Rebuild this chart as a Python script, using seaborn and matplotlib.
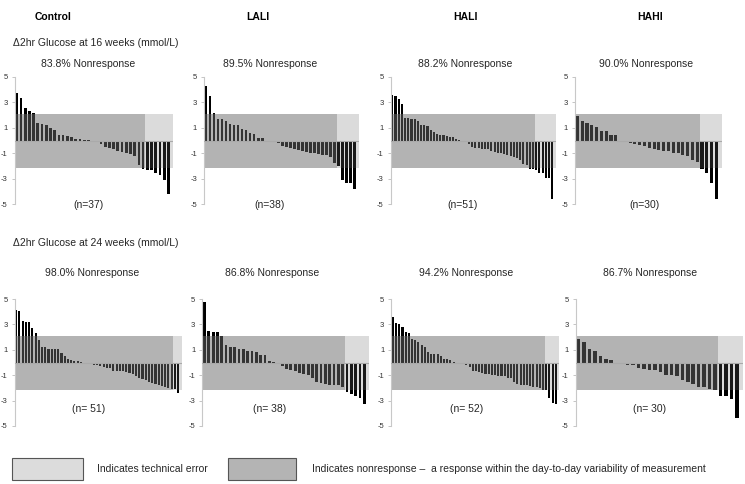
import matplotlib
matplotlib.use("Agg")
import matplotlib.pyplot as plt
import seaborn as sns
import pandas as pd
from matplotlib.patches import Rectangle

sns.set_style("white")
plt.rcParams['font.family'] = ['Liberation Sans', 'DejaVu Sans']

groups = ["Control", "LALI", "HALI", "HAHI"]
row_titles = ["\u03942hr Glucose at 16 weeks (mmol/L)", "\u03942hr Glucose at 24 weeks (mmol/L)"]
pct_16 = ["83.8% Nonresponse", "89.5% Nonresponse", "88.2% Nonresponse", "90.0% Nonresponse"]
pct_24 = ["98.0% Nonresponse", "86.8% Nonresponse", "94.2% Nonresponse", "86.7% Nonresponse"]
n_16 = ["(n=37)", "(n=38)", "(n=51)", "(n=30)"]
n_24 = ["(n= 51)", "(n= 38)", "(n= 52)", "(n= 30)"]
yticks = [5, 3, 1, -1, -3, -5]

control_16 = [3.69, 3.34, 2.52, 2.33, 2.15, 1.41, 1.30, 1.19, 0.98, 0.82, 0.45, 0.40, 0.34, 0.24,
              0.08, 0.08, 0.05, 0.02,
              -0.05, -0.1, -0.25, -0.5, -0.6, -0.7, -0.8, -0.9, -0.95, -1.05, -1.2, -1.95, -2.2,
              -2.3, -2.35, -2.55, -2.7, -3.1, -4.2]
lali_16 = [4.27, 3.45, 2.15, 1.72, 1.72, 1.51, 1.33, 1.22, 1.22, 0.9, 0.82, 0.61, 0.48, 0.19, 0.19,
           0.0,
           -0.1, -0.15, -0.2, -0.4, -0.5, -0.55, -0.65, -0.75, -0.85, -0.9, -0.95, -1.0, -1.05, -1.1,
           -1.15, -1.3, -1.8, -2.0, -3.1, -3.3, -3.3, -3.8]
hali_16 = [3.55, 3.45, 3.25, 2.85, 1.75, 1.75, 1.7, 1.65, 1.55, 1.2, 1.2, 1.1, 0.85, 0.7, 0.5, 0.45,
           0.4, 0.35, 0.3, 0.25, 0.15, 0.05, 0.0,
           -0.15, -0.25, -0.5, -0.6, -0.6, -0.65, -0.7, -0.7, -0.8, -0.9, -0.95, -1.0, -1.05, -1.15,
           -1.2, -1.3, -1.4, -1.55, -1.85, -1.95, -2.2, -2.25, -2.3, -2.55, -2.55, -2.9, -2.9, -4.55]
hahi_16 = [1.95, 1.55, 1.35, 1.2, 1.05, 0.75, 0.75, 0.45, 0.45, 0.0, 0.0,
           -0.2, -0.3, -0.35, -0.45, -0.6, -0.7, -0.75, -0.8, -0.85, -0.95, -1.0, -1.1, -1.25, -1.5,
           -1.7, -2.2, -2.55, -3.3, -4.6]
control_24 = [4.13, 4.05, 3.3, 3.2, 3.2, 2.7, 2.3, 1.8, 1.25, 1.2, 1.1, 1.1, 1.1, 1.05, 0.75, 0.5,
              0.25, 0.2, 0.15, 0.1, 0.05,
              -0.1, -0.1, -0.15, -0.2, -0.2, -0.25, -0.35, -0.45, -0.45, -0.65, -0.65, -0.7, -0.7,
              -0.75, -0.8, -0.9, -1.05, -1.2, -1.3, -1.4, -1.5, -1.6, -1.7, -1.8, -1.85, -1.95, -2.0,
              -2.05, -2.1, -2.4]
lali_24 = [4.8, 2.5, 2.4, 2.4, 2.1, 1.4, 1.2, 1.2, 1.1, 1.1, 0.9, 0.9, 0.8, 0.6, 0.6, 0.15, 0.05, 0.0,
           -0.3, -0.5, -0.6, -0.7, -0.8, -0.9, -0.95, -1.2, -1.5, -1.6, -1.7, -1.75, -1.75, -1.8,
           -1.95, -2.3, -2.5, -2.6, -2.8, -3.3]
hali_24 = [3.55, 3.1, 3.0, 2.8, 2.4, 2.3, 1.85, 1.75, 1.6, 1.4, 1.2, 0.85, 0.7, 0.65, 0.65, 0.5, 0.3,
           0.3, 0.2, 0.05, 0.0,
           -0.05, -0.1, -0.2, -0.35, -0.65, -0.7, -0.75, -0.85, -0.9, -0.9, -0.95, -1.0, -1.05, -1.1,
           -1.1, -1.2, -1.25, -1.5, -1.7, -1.75, -1.75, -1.8, -1.85, -1.9, -1.95, -2.0, -2.2, -2.2,
           -2.8, -3.2, -3.3]
hahi_24 = [1.85, 1.6, 1.05, 0.9, 0.5, 0.3, 0.2, 0.0, 0.0,
           -0.2, -0.2, -0.4, -0.5, -0.6, -0.6, -0.75, -0.95, -0.95, -1.05, -1.35, -1.55, -1.7, -1.95,
           -1.95, -2.05, -2.2, -2.65, -2.65, -2.85, -4.4]

# index of first bar in the technical-error region
split_16 = [31, 33, 45, 26]
split_24 = [49, 33, 48, 26]

band_lo, band_hi = -2.15, 2.05

W, H = 745, 484
fig = plt.figure(figsize=(W / 100, H / 100), dpi=100)

def box(l, r, top, bot):
    return [l / W, 1 - bot / H, (r - l) / W, (bot - top) / H]

boxes_16 = [(14.7, 173), (204, 359), (390.7, 555.7), (575, 721.7)]
boxes_24 = [(14.5, 181.7), (202.3, 369), (391.3, 559.3), (575.7, 743)]
rows = [
    (boxes_16, [control_16, lali_16, hali_16, hahi_16], split_16, pct_16, n_16, 76.7, 204.3),
    (boxes_24, [control_24, lali_24, hali_24, hahi_24], split_24, pct_24, n_24, 299.0, 426.0),
]

for r, (bxs, datas, splits, pcts, ns, ytop, ybot) in enumerate(rows):
    for c in range(4):
        l, rr = bxs[c]
        ax = fig.add_axes(box(l, rr, ytop, ybot))
        vals = datas[c]
        n = len(vals)
        df = pd.DataFrame({"idx": list(range(n)), "val": vals})
        sns.barplot(data=df, x="idx", y="val", color="black", width=0.65,
                    edgecolor="none", linewidth=0, saturation=1, ax=ax, zorder=1)
        x0, x1 = -0.5, n + 0.1
        ax.set_xlim(x0, x1)
        ax.set_ylim(-5, 5)
        sp = splits[c] - 0.5
        ax.add_patch(Rectangle((x0, band_lo), sp - x0, band_hi - band_lo,
                               facecolor="#696969", alpha=0.5, edgecolor="none", zorder=2))
        ax.add_patch(Rectangle((sp, band_lo), x1 - sp, band_hi - band_lo,
                               facecolor="#6c6c6c", alpha=0.24, edgecolor="none", zorder=2))
        ax.axhline(0, color="#aaaaaa", lw=0.8, zorder=3)
        ax.set_xticks([])
        ax.set_yticks(yticks)
        ax.set_yticklabels([str(t) for t in yticks])
        ax.tick_params(axis="y", labelsize=5.5, length=2, width=0.6, color="#bbbbbb",
                       pad=3, labelcolor="#333333", left=True)
        ax.set_xlabel("")
        ax.set_ylabel("")
        for s in ["top", "right", "bottom"]:
            ax.spines[s].set_visible(False)
        ax.spines["left"].set_color("#c8c8c8")
        ax.spines["left"].set_linewidth(0.8)
        ax.set_facecolor("none")

pct_x_16 = [88, 270, 465, 646]
pct_x_24 = [92, 272, 466, 650]
n_x_16 = [89, 270, 463, 645]
n_x_24 = [89, 270, 467, 650]
col_x = [53, 258, 465, 650]

for c in range(4):
    fig.text(col_x[c] / W, 1 - 17 / H, groups[c], ha="center", va="center",
             fontsize=7.5, fontweight="bold", color="black")
    fig.text(pct_x_16[c] / W, 1 - 64 / H, pct_16[c], ha="center", va="center", fontsize=7.5)
    fig.text(pct_x_24[c] / W, 1 - 273 / H, pct_24[c], ha="center", va="center", fontsize=7.5)
    fig.text(n_x_16[c] / W, 1 - 205 / H, n_16[c], ha="center", va="center", fontsize=7.5)
    fig.text(n_x_24[c] / W, 1 - 409 / H, n_24[c], ha="center", va="center", fontsize=7.5)

fig.text(13 / W, 1 - 43 / H, row_titles[0], ha="left", va="center", fontsize=7.5)
fig.text(13 / W, 1 - 243 / H, row_titles[1], ha="left", va="center", fontsize=7.5)

# legend
legend_labels = ["Indicates technical error",
                 "Indicates nonresponse \u2013  a response within the day-to-day variability of measurement"]
legend_colors = ["#dcdcdc", "#b4b4b4"]
lx = [(12, 83), (228, 296)]
tx = [97, 312]
for i in range(2):
    fig.patches.append(Rectangle((lx[i][0] / W, 1 - 480 / H), (lx[i][1] - lx[i][0]) / W, 22 / H,
                                 transform=fig.transFigure, facecolor=legend_colors[i],
                                 edgecolor="#555555", lw=0.8))
    fig.text(tx[i] / W, 1 - 469 / H, legend_labels[i], ha="left", va="center", fontsize=7.5)

fig.savefig("out.png", dpi=100)
